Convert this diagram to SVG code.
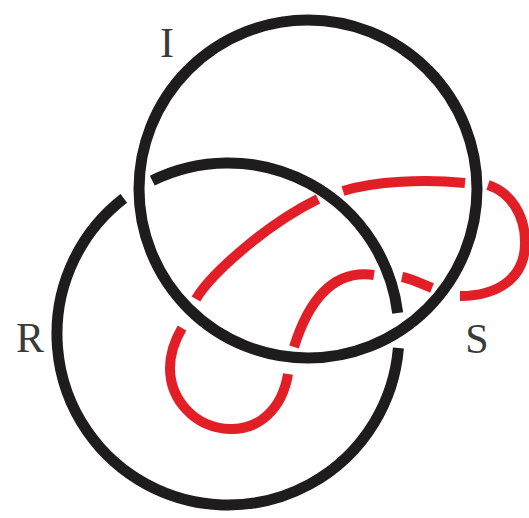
<svg xmlns="http://www.w3.org/2000/svg" width="529" height="518" viewBox="0 0 529 518">
  <style>
    .blk { fill: none; stroke: #1e1c1d; stroke-width: 11; stroke-linecap: butt; }
    .red { fill: none; stroke: #e21f26; stroke-width: 10; stroke-linecap: butt; }
    .lbl { font-family: "Liberation Serif", "Times New Roman", serif; font-size: 42px; fill: #3a3a3a; text-anchor: middle; }
  </style>
  <rect width="529" height="518" fill="#ffffff"/>
  <g id="ring-S">
    <path class="red" d="M196,299 C210,275 265,225 318,199"/>
    <path class="red" d="M343,191 C375,181 425,179 465,183"/>
    <path class="red" d="M488,185 C510,192 526,215 525,245 C524,278 498,296 460,296"/>
    <path class="red" d="M432,288 C422,284 412,279 402,277"/>
    <path class="red" d="M374,275 C340,270 312,290 294,347"/>
    <path class="red" d="M288,374 C282,410 258,430 230,429 C195,428 170,400 170,368 C170,352 175,340 182,328"/>
  </g>
  <g id="ring-R">
    <path class="blk" d="M152.3,180.6 A171,171 0 0 1 397.7,313"/>
    <path class="blk" d="M398.4,348 A171,171 0 1 1 123.8,198.4"/>
  </g>
  <g id="ring-I">
    <circle class="blk" cx="308" cy="189" r="169"/>
  </g>
  <g id="labels">
    <text class="lbl" x="167" y="57">I</text>
    <text class="lbl" x="30" y="352">R</text>
    <text class="lbl" x="477" y="353">S</text>
  </g>
</svg>
